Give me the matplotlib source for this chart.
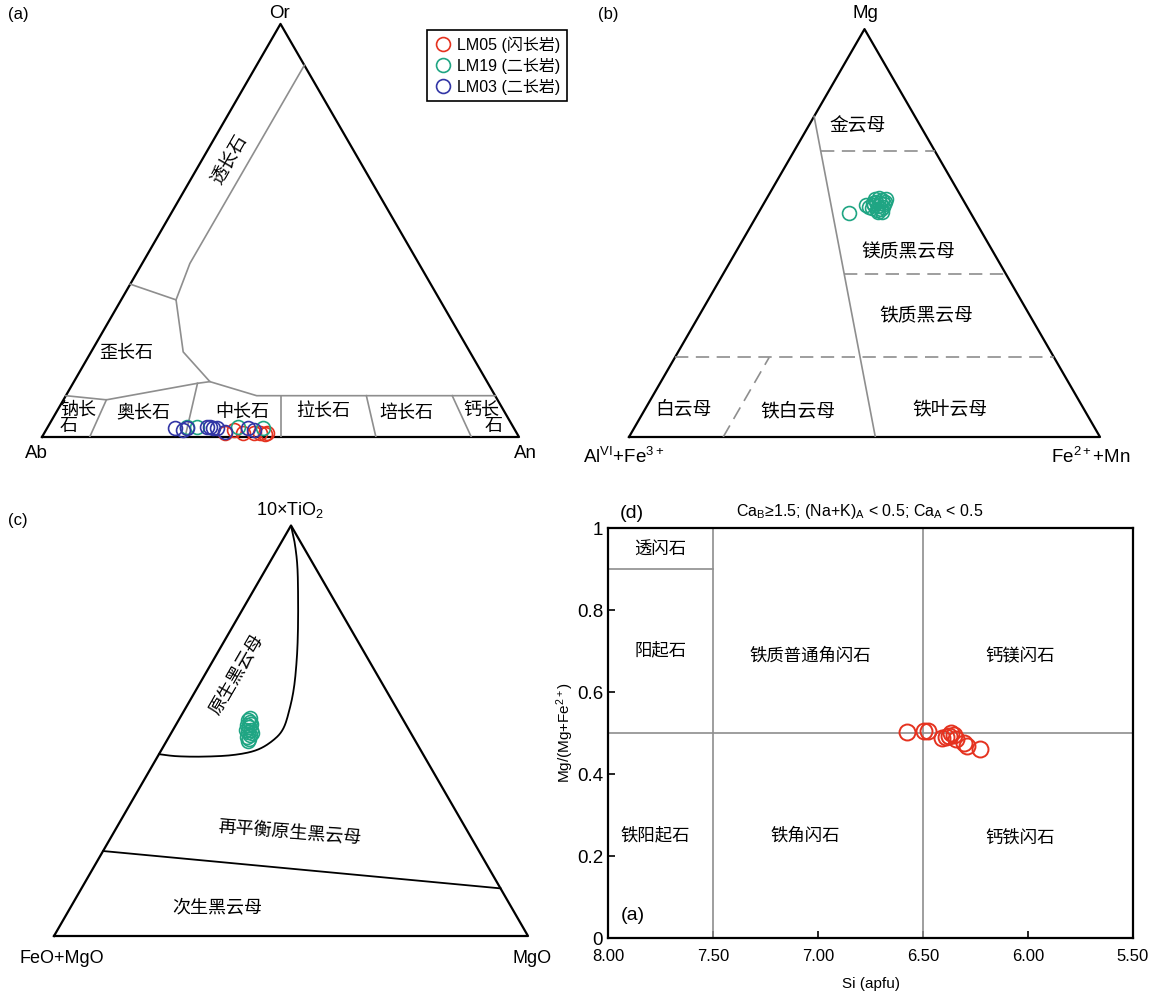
import numpy as np
import matplotlib.pyplot as plt

plt.rcParams['font.family'] = ['Liberation Sans', 'Noto Sans CJK SC', 'DejaVu Sans']
plt.rcParams['mathtext.fontset'] = 'custom'
plt.rcParams['mathtext.rm'] = 'Liberation Sans'
plt.rcParams['mathtext.it'] = 'Liberation Sans:italic'

W, H = 1154, 996
SQ3 = np.sqrt(3) / 2

RED = '#e5321f'
GREEN = '#1fa583'
BLUE = '#3236a6'
GRAY = '#8e8e8e'

# (a) feldspar Ab-An-Or, values as (An, Or) fractions
lm05_an = [0.378, 0.393, 0.417, 0.439, 0.453, 0.466, 0.464]
lm05_or = [0.010, 0.017, 0.010, 0.009, 0.009, 0.010, 0.007]
lm19_an = [0.291, 0.312, 0.399, 0.453]
lm19_or = [0.025, 0.025, 0.025, 0.021]
lm03_an = [0.268, 0.288, 0.293, 0.334, 0.341, 0.349, 0.356, 0.377, 0.422, 0.435]
lm03_or = [0.021, 0.017, 0.021, 0.023, 0.023, 0.021, 0.021, 0.013, 0.021, 0.017]

# field boundaries of (a)
san_an = [0.10, 0.10, 0.115]
san_or = [0.90, 0.42, 0.332]
ano_an = [0.0, 0.115, 0.193, 0.285, 0.40, 0.90]
ano_or = [0.37, 0.332, 0.206, 0.134, 0.10, 0.10]
plag_an = [0.0, 0.09, 0.261, 0.285]
plag_or = [0.10, 0.09, 0.13, 0.134]
div_an_base = [0.1, 0.3, 0.5, 0.7, 0.9]
div_an_top = [0.09, 0.261, 0.45, 0.63, 0.81]
div_or_top = [0.09, 0.13, 0.10, 0.10, 0.10]

# (b) mica, values as (Fe2++Mn, Mg) fractions
b_fe = [0.193, 0.219, 0.226, 0.235, 0.236, 0.236, 0.246, 0.246, 0.247, 0.256,
        0.254, 0.249, 0.256, 0.231, 0.238, 0.258, 0.256, 0.231, 0.253, 0.262]
b_mg = [0.550, 0.569, 0.565, 0.562, 0.569, 0.577, 0.567, 0.574, 0.582, 0.572,
        0.584, 0.557, 0.559, 0.584, 0.586, 0.564, 0.577, 0.574, 0.552, 0.552]
b_solid_fe = [0.0, 0.523]
b_solid_mg = [0.786, 0.0]
b_dash_mg = [0.70, 0.40, 0.195]
b_dash_fe0 = [0.057, 0.257, 0.0]
b_dash_fe1 = [0.30, 0.60, 0.805]

# (c) biotite, values as (MgO, 10xTiO2) fractions
c_mgo = [0.146, 0.153, 0.150, 0.157, 0.165, 0.161, 0.169, 0.165, 0.171, 0.157,
         0.154, 0.170, 0.172, 0.148]
c_ti = [0.526, 0.521, 0.514, 0.509, 0.5015, 0.497, 0.489, 0.4845, 0.480, 0.516,
        0.5015, 0.494, 0.475, 0.531]
curve_ti = [1.0, 0.956, 0.899, 0.818, 0.737, 0.672, 0.607, 0.555, 0.506, 0.477,
            0.453, 0.441, 0.437, 0.438, 0.443]
curve_mgo = [0.0, 0.030, 0.064, 0.106, 0.146, 0.176, 0.203, 0.220, 0.231, 0.224,
             0.201, 0.158, 0.097, 0.040, 0.0]
line_ti = [0.207, 0.116]
line_mgo = [0.0, 0.884]

# (d) amphibole
si = [6.575, 6.494, 6.478, 6.408, 6.392, 6.375, 6.368, 6.352, 6.343, 6.305, 6.289, 6.229]
mg_no = [0.502, 0.506, 0.506, 0.489, 0.491, 0.493, 0.501, 0.495, 0.485, 0.475, 0.468, 0.460]
x_ticks = [8.0, 7.5, 7.0, 6.5, 6.0, 5.5]
x_ticklabels = ['8.00', '7.50', '7.00', '6.50', '6.00', '5.50']
y_ticks = [0, 0.2, 0.4, 0.6, 0.8, 1.0]
y_ticklabels = ['0', '0.2', '0.4', '0.6', '0.8', '1']


def tern(right, top):
    right = np.asarray(right, float)
    top = np.asarray(top, float)
    return right + top / 2, top * SQ3


def smooth(x, y, n=12):
    # catmull-rom through the boundary vertices, just for a rounder line
    p = np.column_stack([x, y])
    p = np.vstack([p[0], p, p[-1]])
    out = []
    t = np.linspace(0, 1, n, endpoint=False)[:, None]
    for i in range(1, len(p) - 2):
        p0, p1, p2, p3 = p[i - 1], p[i], p[i + 1], p[i + 2]
        out.append(0.5 * (2 * p1 + (-p0 + p2) * t + (2 * p0 - 5 * p1 + 4 * p2 - p3) * t ** 2
                          + (-p0 + 3 * p1 - 3 * p2 + p3) * t ** 3))
    out.append(p[-2][None, :])
    out = np.vstack(out)
    return out[:, 0], out[:, 1]


fig = plt.figure(figsize=(W / 100, H / 100), dpi=100)


def tri_axes(left, base, width):
    height = width * SQ3
    ax = fig.add_axes([left / W, 1 - base / H, width / W, height / H])
    ax.set_xlim(0, 1)
    ax.set_ylim(0, SQ3)
    ax.axis('off')
    ax.plot([0, 1, 0.5, 0], [0, 0, SQ3, 0], color='black', lw=1.6, clip_on=False)
    return ax


def ftext(px, py, s, size=13, **kw):
    kw.setdefault('ha', 'center')
    kw.setdefault('va', 'center')
    fig.text(px / W, 1 - py / H, s, fontsize=size, **kw)


# ---------------- (a) ----------------
ax_a = tri_axes(42, 437, 477)
ax_a.plot(*tern(san_an, san_or), color=GRAY, lw=1.2)
ax_a.plot(*tern(ano_an, ano_or), color=GRAY, lw=1.2)
ax_a.plot(*tern(plag_an, plag_or), color=GRAY, lw=1.2)
for a0, a1, o1 in zip(div_an_base, div_an_top, div_or_top):
    ax_a.plot(*tern([a0, a1], [0, o1]), color=GRAY, lw=1.2)

mk = dict(ls='none', marker='o', mfc='none', ms=10, mew=1.2, clip_on=False)
ax_a.plot(*tern(lm05_an, lm05_or), mec=RED, label='LM05 (闪长岩)', **mk)
ax_a.plot(*tern(lm19_an, lm19_or), mec=GREEN, label='LM19 (二长岩)', **mk)
ax_a.plot(*tern(lm03_an, lm03_or), mec=BLUE, label='LM03 (二长岩)', **mk)
leg = ax_a.legend(loc='upper left', bbox_to_anchor=(427 / W, 1 - 30 / H),
                  bbox_transform=fig.transFigure, fontsize=11.5, frameon=True,
                  fancybox=False, edgecolor='black', framealpha=1,
                  handletextpad=0.3, borderpad=0.4, labelspacing=0.3,
                  handlelength=1.2, borderaxespad=0)
leg.get_frame().set_linewidth(1.2)

ftext(18, 14, '(a)', size=12)
ftext(280, 13, 'Or', size=13.5)
ftext(36, 453, 'Ab', size=13.5)
ftext(525, 453, 'An', size=13.5)
ftext(230, 160, '透长石', rotation=60)
ftext(126, 353, '歪长石')
ftext(78, 410, '钠长')
ftext(69, 427, '石')
ftext(143, 413, '奥长石')
ftext(242, 412, '中长石')
ftext(323, 412, '拉长石')
ftext(406, 413, '培长石')
ftext(481, 410, '钙长')
ftext(494, 427, '石')

# ---------------- (b) ----------------
ax_b = tri_axes(629, 437, 471)
ax_b.plot(*tern(b_solid_fe, b_solid_mg), color=GRAY, lw=1.2)
dash = (0, (8, 4.5))
for m, f0, f1 in zip(b_dash_mg, b_dash_fe0, b_dash_fe1):
    ax_b.plot(*tern([f0, f1], [m, m]), color=GRAY, lw=1.2, ls=dash)
ax_b.plot(*tern([0.2, 0.2], [0.0, 0.195]), color=GRAY, lw=1.2, ls=dash)
ax_b.plot(*tern(b_fe, b_mg), mec=GREEN, **mk)

ftext(608, 14, '(b)', size=12)
ftext(865, 13, 'Mg', size=13.5)
ftext(583, 457, r'Al$^{\mathregular{VI}}$+Fe$^{\mathregular{3+}}$', ha='left', size=13.5)
ftext(1091, 457, r'Fe$^{\mathregular{2+}}$+Mn', size=13.5)
ftext(858, 127, '金云母', size=13.5)
ftext(908, 252, '镁质黑云母', size=13.5)
ftext(926, 317, '铁质黑云母', size=13.5)
ftext(683, 410, '白云母', size=13.5)
ftext(798, 411, '铁白云母', size=13.5)
ftext(950, 411, '铁叶云母', size=13.5)

# ---------------- (c) ----------------
ax_c = tri_axes(54, 936, 474)
ax_c.plot(*smooth(*tern(curve_mgo, curve_ti)), color='black', lw=1.3)
ax_c.plot(*tern(line_mgo, line_ti), color='black', lw=1.3)
ax_c.plot(*tern(c_mgo, c_ti), mec=GREEN, **mk)

ftext(18, 520, '(c)', size=12)
ftext(290, 510, r'10×TiO$_{\mathregular{2}}$', size=13)
ftext(62, 958, 'FeO+MgO', size=13)
ftext(532, 958, 'MgO', size=13)
ftext(237, 675, '原生黑云母', rotation=60)
ftext(290, 833, '再平衡原生黑云母', rotation=-4.5)
ftext(217, 908, '次生黑云母')

# ---------------- (d) ----------------
ax_d = fig.add_axes([608 / W, 1 - 938 / H, 525 / W, 410 / H])
ax_d.set_xlim(8.0, 5.5)
ax_d.set_ylim(0, 1)
ax_d.axvline(7.5, color=GRAY, lw=1.2)
ax_d.axvline(6.5, color=GRAY, lw=1.2)
ax_d.axhline(0.5, color=GRAY, lw=1.2)
ax_d.plot([8.0, 7.5], [0.9, 0.9], color=GRAY, lw=1.2)
ax_d.plot(si, mg_no, ls='none', marker='o', mfc='none', mec=RED, ms=11.5, mew=1.4)
ax_d.set_xticks(x_ticks)
ax_d.set_xticklabels(x_ticklabels, fontsize=12)
ax_d.set_yticks(y_ticks)
ax_d.set_yticklabels(y_ticklabels, fontsize=13.5)
ax_d.tick_params(direction='in', length=5, width=1.2, top=False, right=False)
ax_d.tick_params(axis='x', pad=8)
for sp in ax_d.spines.values():
    sp.set_linewidth(1.6)
ax_d.set_xlabel('Si (apfu)', fontsize=11)
ax_d.xaxis.set_label_coords(0.5, -0.095)
ax_d.set_ylabel(r'Mg/(Mg+Fe$^{\mathregular{2+}}$)', fontsize=11)
ax_d.yaxis.set_label_coords(-0.06, 0.5)

lab = dict(ha='center', va='center', fontsize=12.5)
ax_d.text(7.752, 0.946, '透闪石', **lab)
ax_d.text(7.752, 0.702, '阳起石', **lab)
ax_d.text(7.038, 0.688, '铁质普通角闪石', **lab)
ax_d.text(6.038, 0.688, '钙镁闪石', **lab)
ax_d.text(7.776, 0.251, '铁阳起石', **lab)
ax_d.text(7.062, 0.251, '铁角闪石', **lab)
ax_d.text(6.038, 0.244, '钙铁闪石', **lab)
ax_d.text(7.94, 0.055, '(a)', ha='left', va='center', fontsize=14)

ftext(632, 513, '(d)', size=14)
ftext(860, 511, r'Ca$_{\mathregular{B}}$≥1.5; (Na+K)$_{\mathregular{A}}$ < 0.5; Ca$_{\mathregular{A}}$ < 0.5',
      size=11.5)

fig.savefig('out.png', dpi=100, facecolor='white')
